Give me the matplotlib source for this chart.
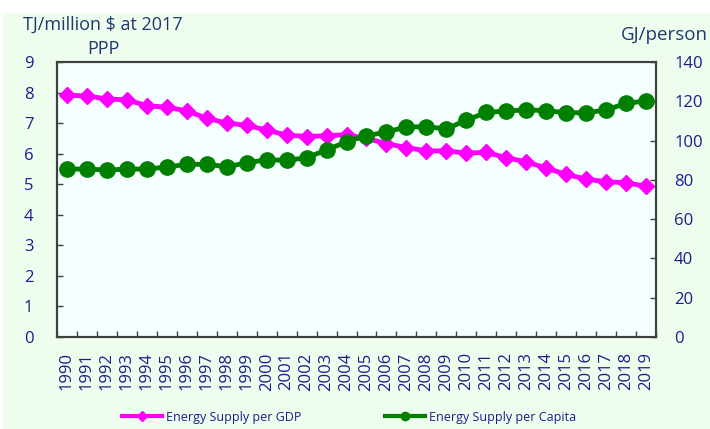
import matplotlib
matplotlib.use("Agg")
import matplotlib.pyplot as plt
from matplotlib.patches import Rectangle
from matplotlib.ticker import FixedLocator

plt.rcParams['font.family'] = ['Open Sans', 'DejaVu Sans']

years = [str(y) for y in range(1990, 2020)]
gdp = [7.91, 7.89, 7.79, 7.76, 7.57, 7.52, 7.40, 7.16, 7.00, 6.93,
       6.77, 6.61, 6.56, 6.59, 6.62, 6.50, 6.33, 6.20, 6.09, 6.09,
       6.02, 6.04, 5.87, 5.73, 5.53, 5.32, 5.17, 5.08, 5.05, 4.93]
capita = [85.5, 85.5, 85.0, 85.5, 85.5, 86.5, 87.9, 87.9, 86.7, 88.6,
          90.3, 89.9, 91.3, 95.2, 99.4, 102.5, 104.3, 107.0, 107.0, 106.0,
          110.3, 114.4, 115.0, 115.7, 115.2, 114.2, 114.2, 115.5, 119.0, 120.1]
left_ticks = [0, 1, 2, 3, 4, 5, 6, 7, 8, 9]
right_ticks = [0, 20, 40, 60, 80, 100, 120, 140]

W, H = 710, 429
fig = plt.figure(figsize=(W / 100, H / 100), dpi=100, facecolor='white')
fig.patches.append(Rectangle((3 / W, 0), 1 - 3 / W, (H - 13) / H, transform=fig.transFigure,
                             facecolor='#EEFDEE', edgecolor='none', zorder=-10))

ax = fig.add_axes([57 / W, (H - 337) / H, (656 - 57) / W, (337 - 62) / H])
ax.set_facecolor('#F5FFFF')
ax2 = ax.twinx()

x = list(range(len(years)))
tick_col = '#1c1c8c'
title_col = '#1f3a6e'

ax.plot(x, gdp, color='#FF00FF', lw=3.5, marker='D', ms=8.5, zorder=3)
ax2.plot(x, capita, color='#008000', lw=3.5, marker='o', ms=11, zorder=3)

ax.set_xlim(-0.5, len(years) - 0.5)
ax.set_ylim(0, 9)
ax2.set_ylim(0, 140)
ax.set_yticks(left_ticks)
ax2.set_yticks(right_ticks)
ax.set_xticks(x)
ax.set_xticklabels(years, rotation=90, fontsize=12, color=tick_col)
ax.xaxis.set_minor_locator(FixedLocator([i - 0.5 for i in range(len(years) + 1)]))
ax.tick_params(axis='x', which='major', length=0, pad=11)
ax.tick_params(axis='x', which='minor', direction='in', length=4.5, width=1, color='#404040')
ax.tick_params(axis='y', direction='in', length=4.5, width=1, color='#404040',
               labelsize=12, labelcolor=tick_col, pad=17)
ax2.tick_params(axis='y', direction='in', length=4.5, width=1, color='#404040',
                labelsize=12, labelcolor=tick_col, pad=13)
for a in (ax, ax2):
    for s in a.spines.values():
        s.set_color('#404040')
        s.set_linewidth(1.5)

fig.text(103 / W, 1 - 25 / H, 'TJ/million $ at 2017', ha='center', va='center',
         fontsize=13, color=title_col)
fig.text(103 / W, 1 - 49 / H, 'PPP', ha='center', va='center',
         fontsize=13, color=title_col)
fig.text(1 - 2 / W, 1 - 35 / H, 'GJ/person', ha='right', va='center',
         fontsize=13.5, color=title_col)

leg_size = 9
h1 = plt.Line2D([], [], color='#FF00FF', lw=3, marker='D', ms=5)
h2 = plt.Line2D([], [], color='#008000', lw=3, marker='o', ms=6)
for h, lab, x0 in [(h1, 'Energy Supply per GDP', 122), (h2, 'Energy Supply per Capita', 385)]:
    leg = fig.legend([h], [lab], loc='center left', bbox_to_anchor=(x0 / W, 12 / H),
                     frameon=False, fontsize=leg_size, handlelength=29 / leg_size,
                     handletextpad=2.5 / leg_size, borderpad=0, borderaxespad=0)
    for t in leg.get_texts():
        t.set_color(tick_col)

fig.savefig('out.png', dpi=100, facecolor=fig.get_facecolor())
